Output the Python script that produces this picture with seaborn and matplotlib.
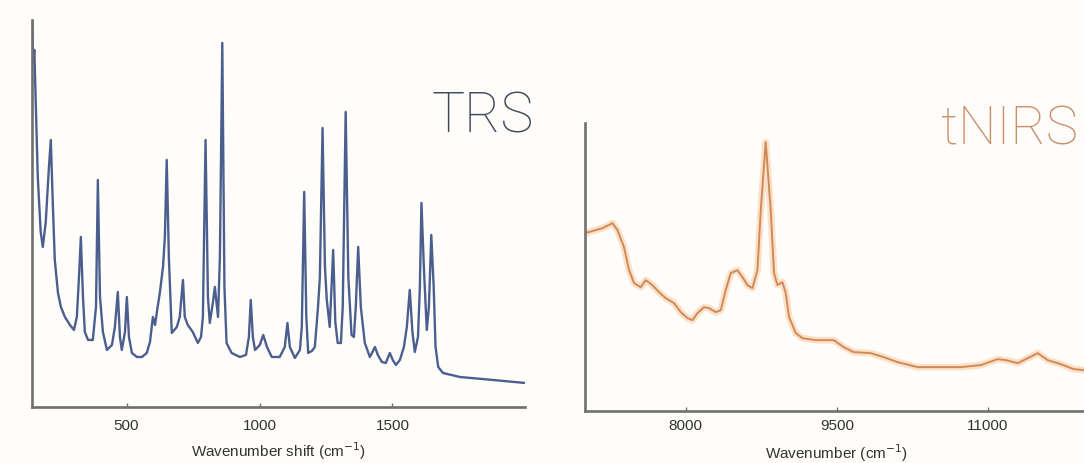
import pandas as pd
import matplotlib.pyplot as plt
import seaborn as sns

# TRS spectrum (Raman shift, cm-1)
trs_shift = [145, 149, 153, 166, 177, 185, 196, 208, 215, 223, 230, 242, 253, 268, 287, 302,
             313, 321, 328, 336, 343, 355, 373, 385, 392, 400, 411, 426, 445, 456, 467, 475,
             482, 494, 501, 509, 520, 539, 558, 576, 588, 599, 607, 614, 625, 637, 644, 651,
             659, 670, 689, 700, 712, 719, 730, 749, 768, 780, 787, 797, 806, 813, 825, 832,
             844, 851, 860, 868, 876, 895, 926, 949, 960, 967, 975, 983, 1001, 1014, 1028, 1046,
             1076, 1095, 1105, 1114, 1133, 1152, 1159, 1168, 1176, 1183, 1197, 1208, 1220, 1227, 1237, 1246,
             1253, 1264, 1277, 1285, 1294, 1306, 1313, 1324, 1334, 1346, 1355, 1362, 1371, 1381, 1396, 1415,
             1423, 1434, 1445, 1460, 1475, 1490, 1501, 1513, 1528, 1543, 1554, 1565, 1575, 1584, 1596, 1603,
             1609, 1618, 1629, 1637, 1646, 1655, 1662, 1672, 1690, 1753, 1878, 1998]
trs_int = [387, 345, 357, 230, 175, 160, 185, 240, 267, 200, 147, 114, 100, 90, 82, 77,
           90, 130, 170, 110, 75, 67, 67, 100, 227, 110, 75, 57, 62, 80, 115, 70,
           57, 75, 110, 70, 54, 50, 50, 54, 65, 90, 82, 95, 114, 140, 170, 247,
           150, 74, 80, 90, 127, 90, 82, 75, 64, 70, 90, 267, 110, 84, 105, 120,
           90, 150, 364, 120, 64, 54, 50, 52, 70, 107, 70, 57, 62, 72, 60, 50,
           50, 60, 84, 60, 49, 57, 80, 215, 90, 54, 56, 60, 100, 130, 279, 140,
           107, 80, 157, 85, 64, 64, 100, 295, 130, 72, 70, 100, 160, 100, 64, 50,
           54, 60, 52, 45, 44, 54, 47, 42, 47, 60, 80, 117, 75, 55, 70, 120,
           204, 140, 77, 100, 172, 120, 60, 40, 34, 30, 27, 24]

# tNIRS spectrum (wavenumber, cm-1)
nirs_wn = [7000, 7173, 7272, 7322, 7387, 7437, 7487, 7553, 7603, 7669, 7735, 7801, 7884, 7950,
           8017, 8067, 8116, 8182, 8231, 8298, 8348, 8397, 8447, 8513, 8563, 8613, 8662, 8712,
           8745, 8794, 8844, 8877, 8911, 8960, 8993, 9026, 9093, 9159, 9291, 9390, 9470, 9569,
           9668, 9837, 9966, 10105, 10304, 10502, 10731, 10929, 11098, 11178, 11297, 11396, 11495,
           11595, 11724, 11853, 11962]
nirs_int = [178, 183, 188, 181, 164, 141, 128, 124, 131, 126, 119, 113, 108, 99,
            93, 91, 98, 104, 103, 99, 101, 121, 138, 141, 134, 126, 123, 141,
            201, 269, 201, 138, 126, 129, 118, 94, 78, 73, 71, 71, 71, 64,
            59, 58, 54, 49, 44, 44, 44, 46, 52, 51, 48, 53, 58,
            51, 47, 42, 41]

trs = pd.DataFrame({"shift": trs_shift, "intensity": trs_int})
nirs = pd.DataFrame({"wn": nirs_wn, "intensity": nirs_int})

sns.set_style("white")
plt.rcParams["font.family"] = ["Liberation Sans", "DejaVu Sans"]

fig = plt.figure(figsize=(10.84, 4.63), dpi=100, facecolor="#fffdfa")
ax1 = fig.add_axes([0.0292, 0.121, 0.4555, 0.836])
ax2 = fig.add_axes([0.5397, 0.112, 0.4645, 0.622])

# TRS panel
sns.lineplot(data=trs, x="shift", y="intensity", ax=ax1, color="#4b5f8f",
             linewidth=1.7, sort=False, estimator=None)
ax1.set_xlim(143, 2000)
ax1.set_ylim(0, 387)
ax1.set_xticks([500, 1000, 1500])
ax1.set_xlabel("Wavenumber shift (cm$^{-1}$)", fontsize=11, color="#333333", labelpad=5)

# tNIRS panel, pale halo under the line
sns.lineplot(data=nirs, x="wn", y="intensity", ax=ax2, color="#f7c08f",
             linewidth=5, alpha=0.45, sort=False, estimator=None)
sns.lineplot(data=nirs, x="wn", y="intensity", ax=ax2, color="#d08a58",
             linewidth=1.4, sort=False, estimator=None)
ax2.set_xlim(7000, 12000)
ax2.set_ylim(0, 288)
ax2.set_xticks([8000, 9500, 11000])
ax2.set_xlabel("Wavenumber (cm$^{-1}$)", fontsize=11, color="#333333", labelpad=6)

for ax, pad in ((ax1, 9), (ax2, 6)):
    ax.set_facecolor("none")
    ax.set_ylabel("")
    ax.set_yticks([])
    for side in ("top", "right"):
        ax.spines[side].set_visible(False)
    for side in ("left", "bottom"):
        ax.spines[side].set_color("#707070")
        ax.spines[side].set_linewidth(1.9)
    ax.tick_params(axis="x", direction="in", length=3, width=1, color="#707070",
                   labelsize=11, labelcolor="#333333", pad=pad, bottom=True)

fig.text(0.3985, 0.713, "TRS", fontsize=40, family=["Roboto", "DejaVu Sans"],
         fontweight="light", color="#3f4a5c", va="baseline")
fig.text(0.868, 0.687, "tNIRS", fontsize=39, family=["Roboto", "DejaVu Sans"],
         fontweight="light", color="#c99070", va="baseline")

fig.savefig("out.png", dpi=100, facecolor=fig.get_facecolor())
